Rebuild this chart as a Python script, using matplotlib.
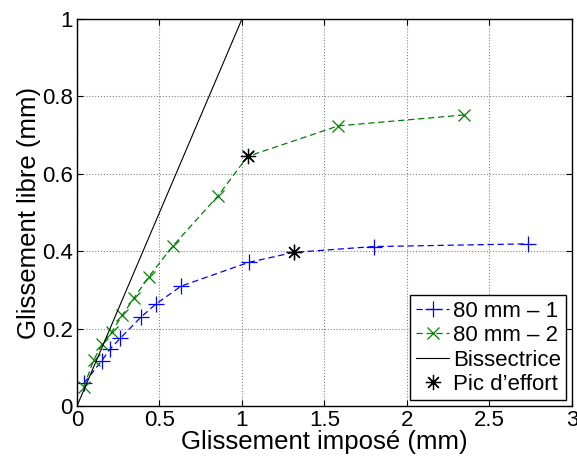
import numpy as np
import matplotlib
matplotlib.use('Agg')
import matplotlib.pyplot as plt

plt.rcParams['font.family'] = ['Liberation Sans', 'DejaVu Sans']

# 80 mm - 1 (blue +)
x1 = [0.042, 0.15, 0.20, 0.262, 0.388, 0.48, 0.632, 1.04, 1.314, 1.798, 2.736]
y1 = [0.059, 0.117, 0.147, 0.175, 0.230, 0.264, 0.310, 0.371, 0.397, 0.412,
      0.419]
peak1 = 8

# 80 mm - 2 (green x)
x2 = [0.042, 0.10, 0.152, 0.21, 0.273, 0.346, 0.435, 0.58, 0.855, 1.034,
      1.585, 2.344]
y2 = [0.050, 0.118, 0.160, 0.191, 0.234, 0.279, 0.334, 0.413, 0.543, 0.645,
      0.724, 0.752]
peak2 = 9

bis_x = [0, 1]
bis_y = [0, 1]

fig = plt.figure(figsize=(5.77, 4.59), dpi=100)
ax = fig.add_axes([0.1335, 0.1155, 0.8575, 0.843])

ax.plot(x1, y1, '--', color='blue', marker='+', markersize=12, mew=0.9,
        lw=0.9, dashes=(5, 3), label='80 mm \u2013 1')
ax.plot(x2, y2, '--', color='#008000', marker='x', markersize=9, mew=0.9,
        lw=0.9, dashes=(5, 3), label='80 mm \u2013 2')
ax.plot(bis_x, bis_y, '-', color='black', lw=0.8, label='Bissectrice')
# peak markers: MATLAB-style 8-arm asterisk
ax.plot([x1[peak1], x2[peak2]], [y1[peak1], y2[peak2]], ls='none',
        marker=(8, 2, 0), color='black', markersize=11, mew=0.9,
        label='Pic d\u2019effort')

ax.set_xlim(0, 3)
ax.set_ylim(0, 1)
ax.set_xticks([0, 0.5, 1, 1.5, 2, 2.5, 3])
ax.set_xticklabels(['0', '0.5', '1', '1.5', '2', '2.5', '3'])
ax.set_yticks([0, 0.2, 0.4, 0.6, 0.8, 1])
ax.set_yticklabels(['0', '0.2', '0.4', '0.6', '0.8', '1'])
ax.grid(True, ls=':', color='#808080', lw=0.8)
ax.tick_params(direction='in', length=4, labelsize=16, top=True, right=True,
               pad=3)
for side in ax.spines:
    ax.spines[side].set_linewidth(1.0)

ax.set_xlabel('Glissement impos\u00e9 (mm)', fontsize=18.5, labelpad=-1)
ax.set_ylabel('Glissement libre (mm)', fontsize=18.5, labelpad=1)

leg = ax.legend(loc='lower right', fontsize=16, fancybox=False,
                framealpha=1, edgecolor='black', handlelength=1.5,
                handletextpad=0.15, borderpad=0.25, labelspacing=0.15,
                borderaxespad=0.25)
leg.get_frame().set_linewidth(1.0)

fig.savefig('out.png', dpi=100)
